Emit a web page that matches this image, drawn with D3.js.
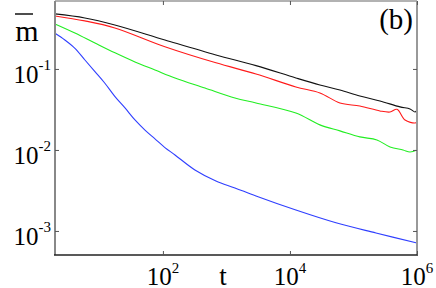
<!DOCTYPE html>
<html>
<head>
<meta charset="utf-8">
<script src="https://cdn.jsdelivr.net/npm/d3@7/dist/d3.min.js"></script>
<style>
  body { margin: 0; background: #fff; }
  text { font-family: 'Liberation Serif', 'Times New Roman', serif; fill: #000; }
</style>
</head>
<body>
<svg id="graph" width="436" height="288"></svg>
<script>
/*******************************************************************************************/
// Data (t, m bar) for the four curves

var black_t = [2, 5.9, 17.5, 107.5, 683, 2920, 12400, 29600, 61200, 126000, 261000, 540000, 776000, 931000, 1e6];
var black_m = [0.478, 0.426, 0.349, 0.228, 0.149, 0.110, 0.0774, 0.0634, 0.0550, 0.0464, 0.0403, 0.0340, 0.0321, 0.0294, 0.0312];

var red_t = [2, 5.9, 17.5, 107.5, 683, 2920, 12400, 29600, 61200, 126000, 261000, 376000, 484000, 648000, 931000, 1e6];
var red_m = [0.451, 0.392, 0.321, 0.188, 0.119, 0.0867, 0.0600, 0.0506, 0.0380, 0.0349, 0.0303, 0.0294, 0.0318, 0.0234, 0.0215, 0.0222];

var green_t = [2, 4.12, 8.51, 17.6, 36.3, 75, 155, 459, 1360, 2920, 12400, 29600, 61200, 126000, 234000, 376000, 602000, 776000, 1e6];
var green_m = [0.360, 0.278, 0.209, 0.158, 0.122, 0.0972, 0.0774, 0.0582, 0.0438, 0.0380, 0.0286, 0.0204, 0.0172, 0.0145, 0.0133, 0.0109, 0.0100, 0.00945, 0.0100];

var blue_t = [2, 2.86, 4.12, 5.92, 8.51, 12.2, 17.6, 25.3, 36.3, 52.2, 75, 107.5, 155, 319, 683, 1360, 2920, 12400, 53000, 226000, 1e6];
var blue_m = [0.276, 0.228, 0.180, 0.129, 0.0927, 0.0666, 0.0455, 0.0330, 0.0235, 0.0176, 0.0137, 0.0107, 0.00867, 0.00566, 0.00414, 0.00340, 0.00270, 0.00181, 0.00126, 0.000944, 0.000711];

var x_ticks = [1e2, 1e4, 1e6], x_exps = ['2', '4', '6'];
var y_ticks = [1e-1, 1e-2, 1e-3], y_exps = ['-1', '-2', '-3'];

/*******************************************************************************************/
// Graph

var svg = d3.select('#graph');
var pLeft = 55, pRight = 417, pTop = 1, pBottom = 255;

var xScale = d3.scaleLog().domain([2, 1e6]).range([pLeft, pRight]);
var yScale = d3.scaleLog().domain([5.05e-4, 0.69]).range([pBottom, pTop]);

var lineGen = d3.line().x(d => xScale(d.t)).y(d => yScale(d.m)).curve(d3.curveCatmullRom.alpha(0.5));

function series(ts, ms){ return ts.map((t, i) => { return { t: t, m: ms[i] } }); }

var curves = [
  { data: series(black_t, black_m), color: '#111' },
  { data: series(red_t, red_m), color: '#ff1a1a' },
  { data: series(green_t, green_m), color: '#22ee22' },
  { data: series(blue_t, blue_m), color: '#2f3fff' }
];

curves.forEach(c => {
  svg.append('path').attr('d', lineGen(c.data))
     .style('fill', 'none').style('stroke', c.color).style('stroke-width', 1.1);
});

// frame
svg.append('line').attr('x1', pLeft).attr('x2', pRight).attr('y1', pTop).attr('y2', pTop).style('stroke', '#999').style('stroke-width', 1.5);
svg.append('line').attr('x1', pRight).attr('x2', pRight).attr('y1', pTop).attr('y2', pBottom).style('stroke', '#999').style('stroke-width', 2);
svg.append('line').attr('x1', pLeft).attr('x2', pLeft).attr('y1', pTop).attr('y2', pBottom).style('stroke', '#888').style('stroke-width', 2);
svg.append('line').attr('x1', pLeft - 1).attr('x2', pRight + 1).attr('y1', pBottom).attr('y2', pBottom).style('stroke', '#222').style('stroke-width', 1.5);

// inward ticks
var xAxisB = svg.append('g').attr('transform', 'translate(0,' + pBottom + ')')
  .call(d3.axisBottom(xScale).tickValues(x_ticks).tickSizeInner(-4).tickSizeOuter(0).tickFormat(''));
var xAxisT = svg.append('g').attr('transform', 'translate(0,' + pTop + ')')
  .call(d3.axisTop(xScale).tickValues(x_ticks).tickSizeInner(-4).tickSizeOuter(0).tickFormat(''));
var yAxisL = svg.append('g').attr('transform', 'translate(' + pLeft + ',0)')
  .call(d3.axisLeft(yScale).tickValues(y_ticks).tickSizeInner(-4).tickSizeOuter(0).tickFormat(''));
var yAxisR = svg.append('g').attr('transform', 'translate(' + pRight + ',0)')
  .call(d3.axisRight(yScale).tickValues(y_ticks).tickSizeInner(-4).tickSizeOuter(0).tickFormat(''));
[xAxisB, xAxisT, yAxisL, yAxisR].forEach(a => {
  a.select('.domain').remove();
  a.selectAll('line').style('stroke', '#555').style('stroke-width', 1);
});

// tick labels
x_ticks.forEach((v, i) => {
  var t = svg.append('text').attr('x', xScale(v)).attr('y', 285).style('text-anchor', 'middle').style('font-size', '25px');
  t.append('tspan').text('10');
  t.append('tspan').attr('dy', -12).style('font-size', '15px').text(x_exps[i]);
});

y_ticks.forEach((v, i) => {
  var t = svg.append('text').attr('x', 51).attr('y', yScale(v) + 14).style('text-anchor', 'end').style('font-size', '25px');
  t.append('tspan').text('10');
  t.append('tspan').attr('dy', -13).style('font-size', '15px').text(y_exps[i]);
});

// axis titles
svg.append('text').attr('x', 223).attr('y', 285).style('text-anchor', 'middle').style('font-size', '27px').text('t');
svg.append('text').attr('x', 27).attr('y', 41).style('text-anchor', 'middle').style('font-size', '30px').text('m');
svg.append('line').attr('x1', 15).attr('x2', 33).attr('y1', 14).attr('y2', 14).style('stroke', '#000').style('stroke-width', 1.4);

svg.append('text').attr('x', 413).attr('y', 29).style('text-anchor', 'end').style('font-size', '29px').text('(b)');
</script>
</body>
</html>
